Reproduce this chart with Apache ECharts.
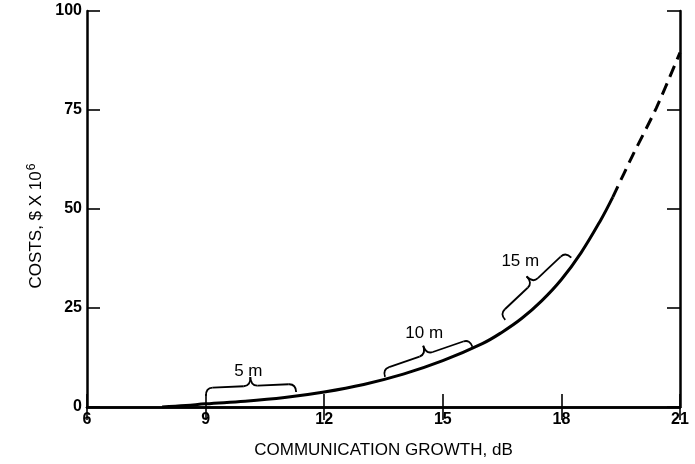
<!DOCTYPE html>
<html>
<head>
<meta charset="utf-8">
<script src="https://cdn.jsdelivr.net/npm/echarts@6/dist/echarts.min.js"></script>
<style>html,body{margin:0;padding:0;background:#fff}#c{width:695px;height:464px}</style>
</head>
<body>
<div id="c"></div>
<script>
// Solid cost curve (dB, $M)
const solidX = [7.9, 8.5, 9, 10, 11, 12, 13, 14, 15, 16, 16.5, 17, 17.5, 18, 18.5, 19, 19.3];
const solidY = [0, 0.35, 0.8, 1.45, 2.4, 3.8, 5.7, 8.3, 11.7, 16.0, 18.9, 22.4, 26.8, 32.2, 39.0, 47.3, 53];
// Dashed extrapolation
const dashX = [19.3, 19.8, 20.4, 21];
const dashY = [53, 63.5, 75.5, 89.5];
// Brace annotations: tip1 (x,y), tip2 (x,y), label position (x,y), text
const braceLabels = ['5 m', '10 m', '15 m'];
const braceTip1 = [[9.01, 2.8], [13.54, 7.6], [16.58, 22.0]];
const braceTip2 = [[11.29, 3.8], [15.75, 15.2], [18.25, 37.7]];
const braceText = [[10.08, 9.1], [14.53, 18.7], [16.96, 36.7]];
const xTickLabels = [6, 9, 12, 15, 18, 21];
const yTickLabels = [0, 25, 50, 75, 100];

const FONT = '"Liberation Sans", Arial, sans-serif';
const solidData = solidX.map((x, i) => [x, solidY[i]]);
const dashData = dashX.map((x, i) => [x, dashY[i]]);
const braceData = braceLabels.map((t, i) => [braceTip1[i][0], braceTip1[i][1], braceTip2[i][0], braceTip2[i][1], braceText[i][0], braceText[i][1], t]);

function renderBrace(params, api) {
  const p1 = api.coord([api.value(0), api.value(1)]);
  const p2 = api.coord([api.value(2), api.value(3)]);
  const tp = api.coord([api.value(4), api.value(5)]);
  const label = braceLabels[params.dataIndex];
  const dx = p2[0] - p1[0], dy = p2[1] - p1[1];
  const L = Math.sqrt(dx * dx + dy * dy);
  const ux = dx / L, uy = dy / L;
  const nx = uy, ny = -ux; // normal toward label side
  const a = 8, c = 9, r = 7;
  const P = (u, v) => [p1[0] + ux * u + nx * v, p1[1] + uy * u + ny * v];
  const st = { stroke: '#000', lineWidth: 1.8, fill: null };
  const q = (s, cp, e) => ({ type: 'bezierCurve', shape: { x1: s[0], y1: s[1], cpx1: cp[0], cpy1: cp[1], x2: e[0], y2: e[1] }, style: st });
  const ln = (s, e) => ({ type: 'line', shape: { x1: s[0], y1: s[1], x2: e[0], y2: e[1] }, style: st });
  const m = L / 2;
  return {
    type: 'group',
    children: [
      q(P(0, 0), P(0, a), P(r, a)),
      ln(P(r, a), P(m - r, a)),
      q(P(m - r, a), P(m, a), P(m, a + c)),
      q(P(m, a + c), P(m, a), P(m + r, a)),
      ln(P(m + r, a), P(L - r, a)),
      q(P(L - r, a), P(L, a), P(L, 0)),
      { type: 'text', x: tp[0], y: tp[1], style: { text: label, fill: '#000', font: '17px ' + FONT, align: 'center', verticalAlign: 'middle' } }
    ]
  };
}

const chart = echarts.init(document.getElementById('c'), null, { renderer: 'canvas' });
const axisLine = { show: true, lineStyle: { color: '#000', width: 2.5 } };
const tick = { show: true, inside: true, length: 13, lineStyle: { color: '#000', width: 1.6 } };
chart.setOption({
  animation: false,
  backgroundColor: '#fff',
  grid: { left: 87, right: 15, top: 11, bottom: 57 },
  xAxis: [
    { type: 'value', min: 6, max: 21, interval: 3, axisLine, axisTick: tick, splitLine: { show: false },
      axisLabel: { color: '#000', fontSize: 16, fontWeight: 'bold', fontFamily: FONT, margin: 5,
        formatter: v => xTickLabels.includes(v) ? String(v) : '' },
      name: 'COMMUNICATION GROWTH, dB', nameLocation: 'middle', nameGap: 35,
      nameTextStyle: { color: '#000', fontSize: 17, fontFamily: FONT } },
    { type: 'value', position: 'top', min: 6, max: 21, interval: 3, axisLine, axisTick: tick,
      axisLabel: { show: false }, splitLine: { show: false } }
  ],
  yAxis: [
    { type: 'value', min: 0, max: 100, interval: 25, axisLine, axisTick: tick, splitLine: { show: false },
      axisLabel: { color: '#000', fontSize: 16, fontWeight: 'bold', fontFamily: FONT, margin: 5,
        formatter: v => yTickLabels.includes(v) ? String(v) : '' },
      name: '{n|COSTS, $ X 10}{s|6}', nameLocation: 'middle', nameGap: 38,
      nameTextStyle: { color: '#000', fontFamily: FONT, padding: [0, 34, 0, 0],
        rich: { n: { fontSize: 17, fontFamily: FONT, color: '#000' }, s: { fontSize: 12, fontFamily: FONT, color: '#000', verticalAlign: 'top', padding: [0, 0, 9, 1] } } } },
    { type: 'value', position: 'right', min: 0, max: 100, interval: 25, axisLine, axisTick: tick,
      axisLabel: { show: false }, splitLine: { show: false } }
  ],
  series: [
    { type: 'line', data: solidData, smooth: 0.4, symbol: 'none', lineStyle: { color: '#000', width: 3 } },
    { type: 'line', data: dashData, smooth: 0.3, symbol: 'none', lineStyle: { color: '#000', width: 3, type: [12, 7] } },
    { type: 'custom', renderItem: renderBrace, data: braceData, encode: { x: [0, 2], y: [1, 3] }, silent: true }
  ]
});
</script>
</body>
</html>
